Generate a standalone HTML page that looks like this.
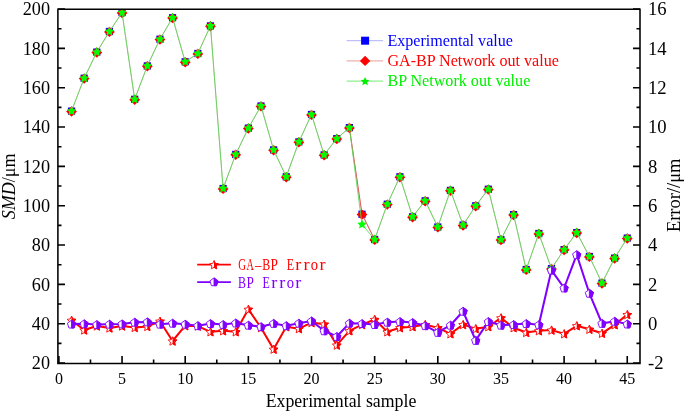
<!DOCTYPE html>
<html><head><meta charset="utf-8"><style>
html,body{margin:0;padding:0;background:#fff;}
body{width:685px;height:413px;overflow:hidden;}
svg{display:block;will-change:transform;}
.tl{font-family:"Liberation Serif",serif;font-size:18.7px;fill:#000;}
.bl{font-family:"Liberation Serif",serif;font-size:16px;fill:#000;}
.at{font-family:"Liberation Serif",serif;font-size:18.5px;fill:#000;}
.lg{font-family:"Liberation Serif",serif;font-size:16.1px;}
.lm{font-family:"Liberation Serif",serif;font-size:16.2px;}
</style></head><body>
<svg width="685" height="413" viewBox="0 0 685 413">
<clipPath id="plotclip"><rect x="57.9" y="9.2" width="582.1" height="354.2"/></clipPath><g clip-path="url(#plotclip)">
<rect x="67.93" y="107.50" width="7.2" height="7.2" fill="#0000ff"/><rect x="80.56" y="74.60" width="7.2" height="7.2" fill="#0000ff"/><rect x="93.19" y="48.50" width="7.2" height="7.2" fill="#0000ff"/><rect x="105.82" y="27.90" width="7.2" height="7.2" fill="#0000ff"/><rect x="118.45" y="9.00" width="7.2" height="7.2" fill="#0000ff"/><rect x="131.08" y="95.70" width="7.2" height="7.2" fill="#0000ff"/><rect x="143.71" y="62.30" width="7.2" height="7.2" fill="#0000ff"/><rect x="156.34" y="35.60" width="7.2" height="7.2" fill="#0000ff"/><rect x="168.97" y="14.10" width="7.2" height="7.2" fill="#0000ff"/><rect x="181.60" y="58.20" width="7.2" height="7.2" fill="#0000ff"/><rect x="194.23" y="49.90" width="7.2" height="7.2" fill="#0000ff"/><rect x="206.86" y="22.30" width="7.2" height="7.2" fill="#0000ff"/><rect x="219.49" y="184.90" width="7.2" height="7.2" fill="#0000ff"/><rect x="232.12" y="150.80" width="7.2" height="7.2" fill="#0000ff"/><rect x="244.75" y="124.50" width="7.2" height="7.2" fill="#0000ff"/><rect x="257.38" y="102.40" width="7.2" height="7.2" fill="#0000ff"/><rect x="270.01" y="146.30" width="7.2" height="7.2" fill="#0000ff"/><rect x="282.64" y="173.20" width="7.2" height="7.2" fill="#0000ff"/><rect x="295.27" y="138.30" width="7.2" height="7.2" fill="#0000ff"/><rect x="307.90" y="110.90" width="7.2" height="7.2" fill="#0000ff"/><rect x="320.53" y="151.30" width="7.2" height="7.2" fill="#0000ff"/><rect x="333.16" y="135.00" width="7.2" height="7.2" fill="#0000ff"/><rect x="345.79" y="124.00" width="7.2" height="7.2" fill="#0000ff"/><rect x="358.42" y="210.60" width="7.2" height="7.2" fill="#0000ff"/><rect x="371.05" y="235.90" width="7.2" height="7.2" fill="#0000ff"/><rect x="383.68" y="200.60" width="7.2" height="7.2" fill="#0000ff"/><rect x="396.31" y="173.20" width="7.2" height="7.2" fill="#0000ff"/><rect x="408.94" y="213.20" width="7.2" height="7.2" fill="#0000ff"/><rect x="421.57" y="197.20" width="7.2" height="7.2" fill="#0000ff"/><rect x="434.20" y="223.40" width="7.2" height="7.2" fill="#0000ff"/><rect x="446.83" y="186.80" width="7.2" height="7.2" fill="#0000ff"/><rect x="459.46" y="221.50" width="7.2" height="7.2" fill="#0000ff"/><rect x="472.09" y="202.20" width="7.2" height="7.2" fill="#0000ff"/><rect x="484.72" y="185.60" width="7.2" height="7.2" fill="#0000ff"/><rect x="497.35" y="236.10" width="7.2" height="7.2" fill="#0000ff"/><rect x="509.98" y="211.00" width="7.2" height="7.2" fill="#0000ff"/><rect x="522.61" y="265.90" width="7.2" height="7.2" fill="#0000ff"/><rect x="535.24" y="229.90" width="7.2" height="7.2" fill="#0000ff"/><rect x="547.87" y="265.00" width="7.2" height="7.2" fill="#0000ff"/><rect x="560.50" y="246.00" width="7.2" height="7.2" fill="#0000ff"/><rect x="573.13" y="229.00" width="7.2" height="7.2" fill="#0000ff"/><rect x="585.76" y="252.90" width="7.2" height="7.2" fill="#0000ff"/><rect x="598.39" y="279.50" width="7.2" height="7.2" fill="#0000ff"/><rect x="611.02" y="254.50" width="7.2" height="7.2" fill="#0000ff"/><rect x="623.65" y="234.50" width="7.2" height="7.2" fill="#0000ff"/>
<polyline points="71.53,111.10 84.16,78.20 96.79,52.10 109.42,31.50 122.05,12.60 134.68,99.30 147.31,65.90 159.94,39.20 172.57,17.70 185.20,61.80 197.83,53.50 210.46,25.90 223.09,188.50 235.72,154.40 248.35,128.10 260.98,106.00 273.61,149.90 286.24,176.80 298.87,141.90 311.50,114.50 324.13,154.90 336.76,138.60 349.39,127.60 362.02,214.20 374.65,239.50 387.28,204.20 399.91,176.80 412.54,216.80 425.17,200.80 437.80,227.00 450.43,190.40 463.06,225.10 475.69,205.80 488.32,189.20 500.95,239.70 513.58,214.60 526.21,269.50 538.84,233.50 551.47,268.60 564.10,249.60 576.73,232.60 589.36,256.50 601.99,283.10 614.62,258.10 627.25,238.10" fill="none" stroke="#d06060" stroke-width="0.9" opacity="0.45"/>
<polyline points="349.39,127.6 362.02,214.2 374.65,239.5" fill="none" stroke="#e05050" stroke-width="0.9"/>
<polygon points="71.53,106.30 76.93,111.50 71.53,116.70 66.13,111.50" fill="#ff0000"/><polygon points="84.16,73.40 89.56,78.60 84.16,83.80 78.76,78.60" fill="#ff0000"/><polygon points="96.79,47.30 102.19,52.50 96.79,57.70 91.39,52.50" fill="#ff0000"/><polygon points="109.42,26.70 114.82,31.90 109.42,37.10 104.02,31.90" fill="#ff0000"/><polygon points="122.05,7.80 127.45,13.00 122.05,18.20 116.65,13.00" fill="#ff0000"/><polygon points="134.68,94.50 140.08,99.70 134.68,104.90 129.28,99.70" fill="#ff0000"/><polygon points="147.31,61.10 152.71,66.30 147.31,71.50 141.91,66.30" fill="#ff0000"/><polygon points="159.94,34.40 165.34,39.60 159.94,44.80 154.54,39.60" fill="#ff0000"/><polygon points="172.57,12.90 177.97,18.10 172.57,23.30 167.17,18.10" fill="#ff0000"/><polygon points="185.20,57.00 190.60,62.20 185.20,67.40 179.80,62.20" fill="#ff0000"/><polygon points="197.83,48.70 203.23,53.90 197.83,59.10 192.43,53.90" fill="#ff0000"/><polygon points="210.46,21.10 215.86,26.30 210.46,31.50 205.06,26.30" fill="#ff0000"/><polygon points="223.09,183.70 228.49,188.90 223.09,194.10 217.69,188.90" fill="#ff0000"/><polygon points="235.72,149.60 241.12,154.80 235.72,160.00 230.32,154.80" fill="#ff0000"/><polygon points="248.35,123.30 253.75,128.50 248.35,133.70 242.95,128.50" fill="#ff0000"/><polygon points="260.98,101.20 266.38,106.40 260.98,111.60 255.58,106.40" fill="#ff0000"/><polygon points="273.61,145.10 279.01,150.30 273.61,155.50 268.21,150.30" fill="#ff0000"/><polygon points="286.24,172.00 291.64,177.20 286.24,182.40 280.84,177.20" fill="#ff0000"/><polygon points="298.87,137.10 304.27,142.30 298.87,147.50 293.47,142.30" fill="#ff0000"/><polygon points="311.50,109.70 316.90,114.90 311.50,120.10 306.10,114.90" fill="#ff0000"/><polygon points="324.13,150.10 329.53,155.30 324.13,160.50 318.73,155.30" fill="#ff0000"/><polygon points="336.76,133.80 342.16,139.00 336.76,144.20 331.36,139.00" fill="#ff0000"/><polygon points="349.39,122.80 354.79,128.00 349.39,133.20 343.99,128.00" fill="#ff0000"/><polygon points="362.02,209.40 367.42,214.60 362.02,219.80 356.62,214.60" fill="#ff0000"/><polygon points="374.65,234.70 380.05,239.90 374.65,245.10 369.25,239.90" fill="#ff0000"/><polygon points="387.28,199.40 392.68,204.60 387.28,209.80 381.88,204.60" fill="#ff0000"/><polygon points="399.91,172.00 405.31,177.20 399.91,182.40 394.51,177.20" fill="#ff0000"/><polygon points="412.54,212.00 417.94,217.20 412.54,222.40 407.14,217.20" fill="#ff0000"/><polygon points="425.17,196.00 430.57,201.20 425.17,206.40 419.77,201.20" fill="#ff0000"/><polygon points="437.80,222.20 443.20,227.40 437.80,232.60 432.40,227.40" fill="#ff0000"/><polygon points="450.43,185.60 455.83,190.80 450.43,196.00 445.03,190.80" fill="#ff0000"/><polygon points="463.06,220.30 468.46,225.50 463.06,230.70 457.66,225.50" fill="#ff0000"/><polygon points="475.69,201.00 481.09,206.20 475.69,211.40 470.29,206.20" fill="#ff0000"/><polygon points="488.32,184.40 493.72,189.60 488.32,194.80 482.92,189.60" fill="#ff0000"/><polygon points="500.95,234.90 506.35,240.10 500.95,245.30 495.55,240.10" fill="#ff0000"/><polygon points="513.58,209.80 518.98,215.00 513.58,220.20 508.18,215.00" fill="#ff0000"/><polygon points="526.21,264.70 531.61,269.90 526.21,275.10 520.81,269.90" fill="#ff0000"/><polygon points="538.84,228.70 544.24,233.90 538.84,239.10 533.44,233.90" fill="#ff0000"/><polygon points="551.47,263.80 556.87,269.00 551.47,274.20 546.07,269.00" fill="#ff0000"/><polygon points="564.10,244.80 569.50,250.00 564.10,255.20 558.70,250.00" fill="#ff0000"/><polygon points="576.73,227.80 582.13,233.00 576.73,238.20 571.33,233.00" fill="#ff0000"/><polygon points="589.36,251.70 594.76,256.90 589.36,262.10 583.96,256.90" fill="#ff0000"/><polygon points="601.99,278.30 607.39,283.50 601.99,288.70 596.59,283.50" fill="#ff0000"/><polygon points="614.62,253.30 620.02,258.50 614.62,263.70 609.22,258.50" fill="#ff0000"/><polygon points="627.25,233.30 632.65,238.50 627.25,243.70 621.85,238.50" fill="#ff0000"/>
<polyline points="71.53,111.10 84.16,78.20 96.79,52.10 109.42,31.50 122.05,12.60 134.68,99.30 147.31,65.90 159.94,39.20 172.57,17.70 185.20,61.80 197.83,53.50 210.46,25.90 223.09,188.50 235.72,154.40 248.35,128.10 260.98,106.00 273.61,149.90 286.24,176.80 298.87,141.90 311.50,114.50 324.13,154.90 336.76,138.60 349.39,127.60 362.02,224.40 374.65,239.50 387.28,204.20 399.91,176.80 412.54,216.80 425.17,200.80 437.80,227.00 450.43,190.40 463.06,225.10 475.69,205.80 488.32,189.20 500.95,239.70 513.58,214.60 526.21,269.50 538.84,233.50 551.47,268.60 564.10,249.60 576.73,232.60 589.36,256.50 601.99,283.10 614.62,258.10 627.25,238.10" fill="none" stroke="#50d850" stroke-width="0.85"/>
<polygon points="71.53,106.10 72.94,109.16 76.29,109.55 73.81,111.84 74.47,115.15 71.53,113.50 68.59,115.15 69.25,111.84 66.77,109.55 70.12,109.16" fill="#00ff00"/><polygon points="84.16,73.20 85.57,76.26 88.92,76.65 86.44,78.94 87.10,82.25 84.16,80.60 81.22,82.25 81.88,78.94 79.40,76.65 82.75,76.26" fill="#00ff00"/><polygon points="96.79,47.10 98.20,50.16 101.55,50.55 99.07,52.84 99.73,56.15 96.79,54.50 93.85,56.15 94.51,52.84 92.03,50.55 95.38,50.16" fill="#00ff00"/><polygon points="109.42,26.50 110.83,29.56 114.18,29.95 111.70,32.24 112.36,35.55 109.42,33.90 106.48,35.55 107.14,32.24 104.66,29.95 108.01,29.56" fill="#00ff00"/><polygon points="122.05,7.60 123.46,10.66 126.81,11.05 124.33,13.34 124.99,16.65 122.05,15.00 119.11,16.65 119.77,13.34 117.29,11.05 120.64,10.66" fill="#00ff00"/><polygon points="134.68,94.30 136.09,97.36 139.44,97.75 136.96,100.04 137.62,103.35 134.68,101.70 131.74,103.35 132.40,100.04 129.92,97.75 133.27,97.36" fill="#00ff00"/><polygon points="147.31,60.90 148.72,63.96 152.07,64.35 149.59,66.64 150.25,69.95 147.31,68.30 144.37,69.95 145.03,66.64 142.55,64.35 145.90,63.96" fill="#00ff00"/><polygon points="159.94,34.20 161.35,37.26 164.70,37.65 162.22,39.94 162.88,43.25 159.94,41.60 157.00,43.25 157.66,39.94 155.18,37.65 158.53,37.26" fill="#00ff00"/><polygon points="172.57,12.70 173.98,15.76 177.33,16.15 174.85,18.44 175.51,21.75 172.57,20.10 169.63,21.75 170.29,18.44 167.81,16.15 171.16,15.76" fill="#00ff00"/><polygon points="185.20,56.80 186.61,59.86 189.96,60.25 187.48,62.54 188.14,65.85 185.20,64.20 182.26,65.85 182.92,62.54 180.44,60.25 183.79,59.86" fill="#00ff00"/><polygon points="197.83,48.50 199.24,51.56 202.59,51.95 200.11,54.24 200.77,57.55 197.83,55.90 194.89,57.55 195.55,54.24 193.07,51.95 196.42,51.56" fill="#00ff00"/><polygon points="210.46,20.90 211.87,23.96 215.22,24.35 212.74,26.64 213.40,29.95 210.46,28.30 207.52,29.95 208.18,26.64 205.70,24.35 209.05,23.96" fill="#00ff00"/><polygon points="223.09,183.50 224.50,186.56 227.85,186.95 225.37,189.24 226.03,192.55 223.09,190.90 220.15,192.55 220.81,189.24 218.33,186.95 221.68,186.56" fill="#00ff00"/><polygon points="235.72,149.40 237.13,152.46 240.48,152.85 238.00,155.14 238.66,158.45 235.72,156.80 232.78,158.45 233.44,155.14 230.96,152.85 234.31,152.46" fill="#00ff00"/><polygon points="248.35,123.10 249.76,126.16 253.11,126.55 250.63,128.84 251.29,132.15 248.35,130.50 245.41,132.15 246.07,128.84 243.59,126.55 246.94,126.16" fill="#00ff00"/><polygon points="260.98,101.00 262.39,104.06 265.74,104.45 263.26,106.74 263.92,110.05 260.98,108.40 258.04,110.05 258.70,106.74 256.22,104.45 259.57,104.06" fill="#00ff00"/><polygon points="273.61,144.90 275.02,147.96 278.37,148.35 275.89,150.64 276.55,153.95 273.61,152.30 270.67,153.95 271.33,150.64 268.85,148.35 272.20,147.96" fill="#00ff00"/><polygon points="286.24,171.80 287.65,174.86 291.00,175.25 288.52,177.54 289.18,180.85 286.24,179.20 283.30,180.85 283.96,177.54 281.48,175.25 284.83,174.86" fill="#00ff00"/><polygon points="298.87,136.90 300.28,139.96 303.63,140.35 301.15,142.64 301.81,145.95 298.87,144.30 295.93,145.95 296.59,142.64 294.11,140.35 297.46,139.96" fill="#00ff00"/><polygon points="311.50,109.50 312.91,112.56 316.26,112.95 313.78,115.24 314.44,118.55 311.50,116.90 308.56,118.55 309.22,115.24 306.74,112.95 310.09,112.56" fill="#00ff00"/><polygon points="324.13,149.90 325.54,152.96 328.89,153.35 326.41,155.64 327.07,158.95 324.13,157.30 321.19,158.95 321.85,155.64 319.37,153.35 322.72,152.96" fill="#00ff00"/><polygon points="336.76,133.60 338.17,136.66 341.52,137.05 339.04,139.34 339.70,142.65 336.76,141.00 333.82,142.65 334.48,139.34 332.00,137.05 335.35,136.66" fill="#00ff00"/><polygon points="349.39,122.60 350.80,125.66 354.15,126.05 351.67,128.34 352.33,131.65 349.39,130.00 346.45,131.65 347.11,128.34 344.63,126.05 347.98,125.66" fill="#00ff00"/><polygon points="362.02,219.40 363.43,222.46 366.78,222.85 364.30,225.14 364.96,228.45 362.02,226.80 359.08,228.45 359.74,225.14 357.26,222.85 360.61,222.46" fill="#00ff00"/><polygon points="374.65,234.50 376.06,237.56 379.41,237.95 376.93,240.24 377.59,243.55 374.65,241.90 371.71,243.55 372.37,240.24 369.89,237.95 373.24,237.56" fill="#00ff00"/><polygon points="387.28,199.20 388.69,202.26 392.04,202.65 389.56,204.94 390.22,208.25 387.28,206.60 384.34,208.25 385.00,204.94 382.52,202.65 385.87,202.26" fill="#00ff00"/><polygon points="399.91,171.80 401.32,174.86 404.67,175.25 402.19,177.54 402.85,180.85 399.91,179.20 396.97,180.85 397.63,177.54 395.15,175.25 398.50,174.86" fill="#00ff00"/><polygon points="412.54,211.80 413.95,214.86 417.30,215.25 414.82,217.54 415.48,220.85 412.54,219.20 409.60,220.85 410.26,217.54 407.78,215.25 411.13,214.86" fill="#00ff00"/><polygon points="425.17,195.80 426.58,198.86 429.93,199.25 427.45,201.54 428.11,204.85 425.17,203.20 422.23,204.85 422.89,201.54 420.41,199.25 423.76,198.86" fill="#00ff00"/><polygon points="437.80,222.00 439.21,225.06 442.56,225.45 440.08,227.74 440.74,231.05 437.80,229.40 434.86,231.05 435.52,227.74 433.04,225.45 436.39,225.06" fill="#00ff00"/><polygon points="450.43,185.40 451.84,188.46 455.19,188.85 452.71,191.14 453.37,194.45 450.43,192.80 447.49,194.45 448.15,191.14 445.67,188.85 449.02,188.46" fill="#00ff00"/><polygon points="463.06,220.10 464.47,223.16 467.82,223.55 465.34,225.84 466.00,229.15 463.06,227.50 460.12,229.15 460.78,225.84 458.30,223.55 461.65,223.16" fill="#00ff00"/><polygon points="475.69,200.80 477.10,203.86 480.45,204.25 477.97,206.54 478.63,209.85 475.69,208.20 472.75,209.85 473.41,206.54 470.93,204.25 474.28,203.86" fill="#00ff00"/><polygon points="488.32,184.20 489.73,187.26 493.08,187.65 490.60,189.94 491.26,193.25 488.32,191.60 485.38,193.25 486.04,189.94 483.56,187.65 486.91,187.26" fill="#00ff00"/><polygon points="500.95,234.70 502.36,237.76 505.71,238.15 503.23,240.44 503.89,243.75 500.95,242.10 498.01,243.75 498.67,240.44 496.19,238.15 499.54,237.76" fill="#00ff00"/><polygon points="513.58,209.60 514.99,212.66 518.34,213.05 515.86,215.34 516.52,218.65 513.58,217.00 510.64,218.65 511.30,215.34 508.82,213.05 512.17,212.66" fill="#00ff00"/><polygon points="526.21,264.50 527.62,267.56 530.97,267.95 528.49,270.24 529.15,273.55 526.21,271.90 523.27,273.55 523.93,270.24 521.45,267.95 524.80,267.56" fill="#00ff00"/><polygon points="538.84,228.50 540.25,231.56 543.60,231.95 541.12,234.24 541.78,237.55 538.84,235.90 535.90,237.55 536.56,234.24 534.08,231.95 537.43,231.56" fill="#00ff00"/><polygon points="551.47,263.60 552.88,266.66 556.23,267.05 553.75,269.34 554.41,272.65 551.47,271.00 548.53,272.65 549.19,269.34 546.71,267.05 550.06,266.66" fill="#00ff00"/><polygon points="564.10,244.60 565.51,247.66 568.86,248.05 566.38,250.34 567.04,253.65 564.10,252.00 561.16,253.65 561.82,250.34 559.34,248.05 562.69,247.66" fill="#00ff00"/><polygon points="576.73,227.60 578.14,230.66 581.49,231.05 579.01,233.34 579.67,236.65 576.73,235.00 573.79,236.65 574.45,233.34 571.97,231.05 575.32,230.66" fill="#00ff00"/><polygon points="589.36,251.50 590.77,254.56 594.12,254.95 591.64,257.24 592.30,260.55 589.36,258.90 586.42,260.55 587.08,257.24 584.60,254.95 587.95,254.56" fill="#00ff00"/><polygon points="601.99,278.10 603.40,281.16 606.75,281.55 604.27,283.84 604.93,287.15 601.99,285.50 599.05,287.15 599.71,283.84 597.23,281.55 600.58,281.16" fill="#00ff00"/><polygon points="614.62,253.10 616.03,256.16 619.38,256.55 616.90,258.84 617.56,262.15 614.62,260.50 611.68,262.15 612.34,258.84 609.86,256.55 613.21,256.16" fill="#00ff00"/><polygon points="627.25,233.10 628.66,236.16 632.01,236.55 629.53,238.84 630.19,242.15 627.25,240.50 624.31,242.15 624.97,238.84 622.49,236.55 625.84,236.16" fill="#00ff00"/>
<polyline points="71.53,320.30 84.16,330.00 96.79,326.00 109.42,328.00 122.05,326.00 134.68,327.50 147.31,326.50 159.94,321.20 172.57,341.00 185.20,325.70 197.83,326.10 210.46,331.80 223.09,330.80 235.72,331.80 248.35,309.30 260.98,327.70 273.61,349.20 286.24,326.70 298.87,328.70 311.50,322.60 324.13,324.20 336.76,345.10 349.39,330.80 362.02,324.60 374.65,319.50 387.28,331.80 399.91,327.70 412.54,326.70 425.17,324.60 437.80,327.70 450.43,333.80 463.06,324.60 475.69,328.70 488.32,326.70 500.95,317.90 513.58,327.70 526.21,332.50 538.84,330.80 551.47,330.10 564.10,333.80 576.73,325.80 589.36,329.30 601.99,333.30 614.62,324.80 627.25,314.60" fill="none" stroke="#ff0000" stroke-width="2" stroke-linejoin="round"/>
<polygon points="71.53,316.14 72.83,318.95 75.90,319.32 73.63,321.42 74.23,324.46 71.53,322.95 68.83,324.46 69.43,321.42 67.16,319.32 70.23,318.95" fill="#fff" stroke="#ff0000" stroke-width="0.9"/><clipPath id="c7153_32030"><rect x="71.53" y="312.30" width="9" height="16"/></clipPath><polygon points="71.53,316.14 72.83,318.95 75.90,319.32 73.63,321.42 74.23,324.46 71.53,322.95 68.83,324.46 69.43,321.42 67.16,319.32 70.23,318.95" fill="#ff0000" stroke="#ff0000" stroke-width="0.9" clip-path="url(#c7153_32030)"/><polygon points="84.16,325.84 85.46,328.65 88.53,329.02 86.26,331.12 86.86,334.16 84.16,332.65 81.46,334.16 82.06,331.12 79.79,329.02 82.86,328.65" fill="#fff" stroke="#ff0000" stroke-width="0.9"/><clipPath id="c8416_33000"><rect x="84.16" y="322.00" width="9" height="16"/></clipPath><polygon points="84.16,325.84 85.46,328.65 88.53,329.02 86.26,331.12 86.86,334.16 84.16,332.65 81.46,334.16 82.06,331.12 79.79,329.02 82.86,328.65" fill="#ff0000" stroke="#ff0000" stroke-width="0.9" clip-path="url(#c8416_33000)"/><polygon points="96.79,321.84 98.09,324.65 101.16,325.02 98.89,327.12 99.49,330.16 96.79,328.65 94.09,330.16 94.69,327.12 92.42,325.02 95.49,324.65" fill="#fff" stroke="#ff0000" stroke-width="0.9"/><clipPath id="c9679_32600"><rect x="96.79" y="318.00" width="9" height="16"/></clipPath><polygon points="96.79,321.84 98.09,324.65 101.16,325.02 98.89,327.12 99.49,330.16 96.79,328.65 94.09,330.16 94.69,327.12 92.42,325.02 95.49,324.65" fill="#ff0000" stroke="#ff0000" stroke-width="0.9" clip-path="url(#c9679_32600)"/><polygon points="109.42,323.84 110.72,326.65 113.79,327.02 111.52,329.12 112.12,332.16 109.42,330.65 106.72,332.16 107.32,329.12 105.05,327.02 108.12,326.65" fill="#fff" stroke="#ff0000" stroke-width="0.9"/><clipPath id="c10942_32800"><rect x="109.42" y="320.00" width="9" height="16"/></clipPath><polygon points="109.42,323.84 110.72,326.65 113.79,327.02 111.52,329.12 112.12,332.16 109.42,330.65 106.72,332.16 107.32,329.12 105.05,327.02 108.12,326.65" fill="#ff0000" stroke="#ff0000" stroke-width="0.9" clip-path="url(#c10942_32800)"/><polygon points="122.05,321.84 123.35,324.65 126.42,325.02 124.15,327.12 124.75,330.16 122.05,328.65 119.35,330.16 119.95,327.12 117.68,325.02 120.75,324.65" fill="#fff" stroke="#ff0000" stroke-width="0.9"/><clipPath id="c12205_32600"><rect x="122.05" y="318.00" width="9" height="16"/></clipPath><polygon points="122.05,321.84 123.35,324.65 126.42,325.02 124.15,327.12 124.75,330.16 122.05,328.65 119.35,330.16 119.95,327.12 117.68,325.02 120.75,324.65" fill="#ff0000" stroke="#ff0000" stroke-width="0.9" clip-path="url(#c12205_32600)"/><polygon points="134.68,323.34 135.98,326.15 139.05,326.52 136.78,328.62 137.38,331.66 134.68,330.15 131.98,331.66 132.58,328.62 130.31,326.52 133.38,326.15" fill="#fff" stroke="#ff0000" stroke-width="0.9"/><clipPath id="c13468_32750"><rect x="134.68" y="319.50" width="9" height="16"/></clipPath><polygon points="134.68,323.34 135.98,326.15 139.05,326.52 136.78,328.62 137.38,331.66 134.68,330.15 131.98,331.66 132.58,328.62 130.31,326.52 133.38,326.15" fill="#ff0000" stroke="#ff0000" stroke-width="0.9" clip-path="url(#c13468_32750)"/><polygon points="147.31,322.34 148.61,325.15 151.68,325.52 149.41,327.62 150.01,330.66 147.31,329.15 144.61,330.66 145.21,327.62 142.94,325.52 146.01,325.15" fill="#fff" stroke="#ff0000" stroke-width="0.9"/><clipPath id="c14731_32650"><rect x="147.31" y="318.50" width="9" height="16"/></clipPath><polygon points="147.31,322.34 148.61,325.15 151.68,325.52 149.41,327.62 150.01,330.66 147.31,329.15 144.61,330.66 145.21,327.62 142.94,325.52 146.01,325.15" fill="#ff0000" stroke="#ff0000" stroke-width="0.9" clip-path="url(#c14731_32650)"/><polygon points="159.94,317.04 161.24,319.85 164.31,320.22 162.04,322.32 162.64,325.36 159.94,323.85 157.24,325.36 157.84,322.32 155.57,320.22 158.64,319.85" fill="#fff" stroke="#ff0000" stroke-width="0.9"/><clipPath id="c15994_32120"><rect x="159.94" y="313.20" width="9" height="16"/></clipPath><polygon points="159.94,317.04 161.24,319.85 164.31,320.22 162.04,322.32 162.64,325.36 159.94,323.85 157.24,325.36 157.84,322.32 155.57,320.22 158.64,319.85" fill="#ff0000" stroke="#ff0000" stroke-width="0.9" clip-path="url(#c15994_32120)"/><polygon points="172.57,336.84 173.87,339.65 176.94,340.02 174.67,342.12 175.27,345.16 172.57,343.65 169.87,345.16 170.47,342.12 168.20,340.02 171.27,339.65" fill="#fff" stroke="#ff0000" stroke-width="0.9"/><clipPath id="c17257_34100"><rect x="172.57" y="333.00" width="9" height="16"/></clipPath><polygon points="172.57,336.84 173.87,339.65 176.94,340.02 174.67,342.12 175.27,345.16 172.57,343.65 169.87,345.16 170.47,342.12 168.20,340.02 171.27,339.65" fill="#ff0000" stroke="#ff0000" stroke-width="0.9" clip-path="url(#c17257_34100)"/><polygon points="185.20,321.54 186.50,324.35 189.57,324.72 187.30,326.82 187.90,329.86 185.20,328.35 182.50,329.86 183.10,326.82 180.83,324.72 183.90,324.35" fill="#fff" stroke="#ff0000" stroke-width="0.9"/><clipPath id="c18520_32570"><rect x="185.20" y="317.70" width="9" height="16"/></clipPath><polygon points="185.20,321.54 186.50,324.35 189.57,324.72 187.30,326.82 187.90,329.86 185.20,328.35 182.50,329.86 183.10,326.82 180.83,324.72 183.90,324.35" fill="#ff0000" stroke="#ff0000" stroke-width="0.9" clip-path="url(#c18520_32570)"/><polygon points="197.83,321.94 199.13,324.75 202.20,325.12 199.93,327.22 200.53,330.26 197.83,328.75 195.13,330.26 195.73,327.22 193.46,325.12 196.53,324.75" fill="#fff" stroke="#ff0000" stroke-width="0.9"/><clipPath id="c19783_32610"><rect x="197.83" y="318.10" width="9" height="16"/></clipPath><polygon points="197.83,321.94 199.13,324.75 202.20,325.12 199.93,327.22 200.53,330.26 197.83,328.75 195.13,330.26 195.73,327.22 193.46,325.12 196.53,324.75" fill="#ff0000" stroke="#ff0000" stroke-width="0.9" clip-path="url(#c19783_32610)"/><polygon points="210.46,327.64 211.76,330.45 214.83,330.82 212.56,332.92 213.16,335.96 210.46,334.45 207.76,335.96 208.36,332.92 206.09,330.82 209.16,330.45" fill="#fff" stroke="#ff0000" stroke-width="0.9"/><clipPath id="c21046_33180"><rect x="210.46" y="323.80" width="9" height="16"/></clipPath><polygon points="210.46,327.64 211.76,330.45 214.83,330.82 212.56,332.92 213.16,335.96 210.46,334.45 207.76,335.96 208.36,332.92 206.09,330.82 209.16,330.45" fill="#ff0000" stroke="#ff0000" stroke-width="0.9" clip-path="url(#c21046_33180)"/><polygon points="223.09,326.64 224.39,329.45 227.46,329.82 225.19,331.92 225.79,334.96 223.09,333.45 220.39,334.96 220.99,331.92 218.72,329.82 221.79,329.45" fill="#fff" stroke="#ff0000" stroke-width="0.9"/><clipPath id="c22309_33080"><rect x="223.09" y="322.80" width="9" height="16"/></clipPath><polygon points="223.09,326.64 224.39,329.45 227.46,329.82 225.19,331.92 225.79,334.96 223.09,333.45 220.39,334.96 220.99,331.92 218.72,329.82 221.79,329.45" fill="#ff0000" stroke="#ff0000" stroke-width="0.9" clip-path="url(#c22309_33080)"/><polygon points="235.72,327.64 237.02,330.45 240.09,330.82 237.82,332.92 238.42,335.96 235.72,334.45 233.02,335.96 233.62,332.92 231.35,330.82 234.42,330.45" fill="#fff" stroke="#ff0000" stroke-width="0.9"/><clipPath id="c23572_33180"><rect x="235.72" y="323.80" width="9" height="16"/></clipPath><polygon points="235.72,327.64 237.02,330.45 240.09,330.82 237.82,332.92 238.42,335.96 235.72,334.45 233.02,335.96 233.62,332.92 231.35,330.82 234.42,330.45" fill="#ff0000" stroke="#ff0000" stroke-width="0.9" clip-path="url(#c23572_33180)"/><polygon points="248.35,305.14 249.65,307.95 252.72,308.32 250.45,310.42 251.05,313.46 248.35,311.95 245.65,313.46 246.25,310.42 243.98,308.32 247.05,307.95" fill="#fff" stroke="#ff0000" stroke-width="0.9"/><clipPath id="c24835_30930"><rect x="248.35" y="301.30" width="9" height="16"/></clipPath><polygon points="248.35,305.14 249.65,307.95 252.72,308.32 250.45,310.42 251.05,313.46 248.35,311.95 245.65,313.46 246.25,310.42 243.98,308.32 247.05,307.95" fill="#ff0000" stroke="#ff0000" stroke-width="0.9" clip-path="url(#c24835_30930)"/><polygon points="260.98,323.54 262.28,326.35 265.35,326.72 263.08,328.82 263.68,331.86 260.98,330.35 258.28,331.86 258.88,328.82 256.61,326.72 259.68,326.35" fill="#fff" stroke="#ff0000" stroke-width="0.9"/><clipPath id="c26098_32770"><rect x="260.98" y="319.70" width="9" height="16"/></clipPath><polygon points="260.98,323.54 262.28,326.35 265.35,326.72 263.08,328.82 263.68,331.86 260.98,330.35 258.28,331.86 258.88,328.82 256.61,326.72 259.68,326.35" fill="#ff0000" stroke="#ff0000" stroke-width="0.9" clip-path="url(#c26098_32770)"/><polygon points="273.61,345.04 274.91,347.85 277.98,348.22 275.71,350.32 276.31,353.36 273.61,351.85 270.91,353.36 271.51,350.32 269.24,348.22 272.31,347.85" fill="#fff" stroke="#ff0000" stroke-width="0.9"/><clipPath id="c27361_34920"><rect x="273.61" y="341.20" width="9" height="16"/></clipPath><polygon points="273.61,345.04 274.91,347.85 277.98,348.22 275.71,350.32 276.31,353.36 273.61,351.85 270.91,353.36 271.51,350.32 269.24,348.22 272.31,347.85" fill="#ff0000" stroke="#ff0000" stroke-width="0.9" clip-path="url(#c27361_34920)"/><polygon points="286.24,322.54 287.54,325.35 290.61,325.72 288.34,327.82 288.94,330.86 286.24,329.35 283.54,330.86 284.14,327.82 281.87,325.72 284.94,325.35" fill="#fff" stroke="#ff0000" stroke-width="0.9"/><clipPath id="c28624_32670"><rect x="286.24" y="318.70" width="9" height="16"/></clipPath><polygon points="286.24,322.54 287.54,325.35 290.61,325.72 288.34,327.82 288.94,330.86 286.24,329.35 283.54,330.86 284.14,327.82 281.87,325.72 284.94,325.35" fill="#ff0000" stroke="#ff0000" stroke-width="0.9" clip-path="url(#c28624_32670)"/><polygon points="298.87,324.54 300.17,327.35 303.24,327.72 300.97,329.82 301.57,332.86 298.87,331.35 296.17,332.86 296.77,329.82 294.50,327.72 297.57,327.35" fill="#fff" stroke="#ff0000" stroke-width="0.9"/><clipPath id="c29887_32870"><rect x="298.87" y="320.70" width="9" height="16"/></clipPath><polygon points="298.87,324.54 300.17,327.35 303.24,327.72 300.97,329.82 301.57,332.86 298.87,331.35 296.17,332.86 296.77,329.82 294.50,327.72 297.57,327.35" fill="#ff0000" stroke="#ff0000" stroke-width="0.9" clip-path="url(#c29887_32870)"/><polygon points="311.50,318.44 312.80,321.25 315.87,321.62 313.60,323.72 314.20,326.76 311.50,325.25 308.80,326.76 309.40,323.72 307.13,321.62 310.20,321.25" fill="#fff" stroke="#ff0000" stroke-width="0.9"/><clipPath id="c31150_32260"><rect x="311.50" y="314.60" width="9" height="16"/></clipPath><polygon points="311.50,318.44 312.80,321.25 315.87,321.62 313.60,323.72 314.20,326.76 311.50,325.25 308.80,326.76 309.40,323.72 307.13,321.62 310.20,321.25" fill="#ff0000" stroke="#ff0000" stroke-width="0.9" clip-path="url(#c31150_32260)"/><polygon points="324.13,320.04 325.43,322.85 328.50,323.22 326.23,325.32 326.83,328.36 324.13,326.85 321.43,328.36 322.03,325.32 319.76,323.22 322.83,322.85" fill="#fff" stroke="#ff0000" stroke-width="0.9"/><clipPath id="c32413_32420"><rect x="324.13" y="316.20" width="9" height="16"/></clipPath><polygon points="324.13,320.04 325.43,322.85 328.50,323.22 326.23,325.32 326.83,328.36 324.13,326.85 321.43,328.36 322.03,325.32 319.76,323.22 322.83,322.85" fill="#ff0000" stroke="#ff0000" stroke-width="0.9" clip-path="url(#c32413_32420)"/><polygon points="336.76,340.94 338.06,343.75 341.13,344.12 338.86,346.22 339.46,349.26 336.76,347.75 334.06,349.26 334.66,346.22 332.39,344.12 335.46,343.75" fill="#fff" stroke="#ff0000" stroke-width="0.9"/><clipPath id="c33676_34510"><rect x="336.76" y="337.10" width="9" height="16"/></clipPath><polygon points="336.76,340.94 338.06,343.75 341.13,344.12 338.86,346.22 339.46,349.26 336.76,347.75 334.06,349.26 334.66,346.22 332.39,344.12 335.46,343.75" fill="#ff0000" stroke="#ff0000" stroke-width="0.9" clip-path="url(#c33676_34510)"/><polygon points="349.39,326.64 350.69,329.45 353.76,329.82 351.49,331.92 352.09,334.96 349.39,333.45 346.69,334.96 347.29,331.92 345.02,329.82 348.09,329.45" fill="#fff" stroke="#ff0000" stroke-width="0.9"/><clipPath id="c34939_33080"><rect x="349.39" y="322.80" width="9" height="16"/></clipPath><polygon points="349.39,326.64 350.69,329.45 353.76,329.82 351.49,331.92 352.09,334.96 349.39,333.45 346.69,334.96 347.29,331.92 345.02,329.82 348.09,329.45" fill="#ff0000" stroke="#ff0000" stroke-width="0.9" clip-path="url(#c34939_33080)"/><polygon points="362.02,320.44 363.32,323.25 366.39,323.62 364.12,325.72 364.72,328.76 362.02,327.25 359.32,328.76 359.92,325.72 357.65,323.62 360.72,323.25" fill="#fff" stroke="#ff0000" stroke-width="0.9"/><clipPath id="c36202_32460"><rect x="362.02" y="316.60" width="9" height="16"/></clipPath><polygon points="362.02,320.44 363.32,323.25 366.39,323.62 364.12,325.72 364.72,328.76 362.02,327.25 359.32,328.76 359.92,325.72 357.65,323.62 360.72,323.25" fill="#ff0000" stroke="#ff0000" stroke-width="0.9" clip-path="url(#c36202_32460)"/><polygon points="374.65,315.34 375.95,318.15 379.02,318.52 376.75,320.62 377.35,323.66 374.65,322.15 371.95,323.66 372.55,320.62 370.28,318.52 373.35,318.15" fill="#fff" stroke="#ff0000" stroke-width="0.9"/><clipPath id="c37465_31950"><rect x="374.65" y="311.50" width="9" height="16"/></clipPath><polygon points="374.65,315.34 375.95,318.15 379.02,318.52 376.75,320.62 377.35,323.66 374.65,322.15 371.95,323.66 372.55,320.62 370.28,318.52 373.35,318.15" fill="#ff0000" stroke="#ff0000" stroke-width="0.9" clip-path="url(#c37465_31950)"/><polygon points="387.28,327.64 388.58,330.45 391.65,330.82 389.38,332.92 389.98,335.96 387.28,334.45 384.58,335.96 385.18,332.92 382.91,330.82 385.98,330.45" fill="#fff" stroke="#ff0000" stroke-width="0.9"/><clipPath id="c38728_33180"><rect x="387.28" y="323.80" width="9" height="16"/></clipPath><polygon points="387.28,327.64 388.58,330.45 391.65,330.82 389.38,332.92 389.98,335.96 387.28,334.45 384.58,335.96 385.18,332.92 382.91,330.82 385.98,330.45" fill="#ff0000" stroke="#ff0000" stroke-width="0.9" clip-path="url(#c38728_33180)"/><polygon points="399.91,323.54 401.21,326.35 404.28,326.72 402.01,328.82 402.61,331.86 399.91,330.35 397.21,331.86 397.81,328.82 395.54,326.72 398.61,326.35" fill="#fff" stroke="#ff0000" stroke-width="0.9"/><clipPath id="c39991_32770"><rect x="399.91" y="319.70" width="9" height="16"/></clipPath><polygon points="399.91,323.54 401.21,326.35 404.28,326.72 402.01,328.82 402.61,331.86 399.91,330.35 397.21,331.86 397.81,328.82 395.54,326.72 398.61,326.35" fill="#ff0000" stroke="#ff0000" stroke-width="0.9" clip-path="url(#c39991_32770)"/><polygon points="412.54,322.54 413.84,325.35 416.91,325.72 414.64,327.82 415.24,330.86 412.54,329.35 409.84,330.86 410.44,327.82 408.17,325.72 411.24,325.35" fill="#fff" stroke="#ff0000" stroke-width="0.9"/><clipPath id="c41254_32670"><rect x="412.54" y="318.70" width="9" height="16"/></clipPath><polygon points="412.54,322.54 413.84,325.35 416.91,325.72 414.64,327.82 415.24,330.86 412.54,329.35 409.84,330.86 410.44,327.82 408.17,325.72 411.24,325.35" fill="#ff0000" stroke="#ff0000" stroke-width="0.9" clip-path="url(#c41254_32670)"/><polygon points="425.17,320.44 426.47,323.25 429.54,323.62 427.27,325.72 427.87,328.76 425.17,327.25 422.47,328.76 423.07,325.72 420.80,323.62 423.87,323.25" fill="#fff" stroke="#ff0000" stroke-width="0.9"/><clipPath id="c42517_32460"><rect x="425.17" y="316.60" width="9" height="16"/></clipPath><polygon points="425.17,320.44 426.47,323.25 429.54,323.62 427.27,325.72 427.87,328.76 425.17,327.25 422.47,328.76 423.07,325.72 420.80,323.62 423.87,323.25" fill="#ff0000" stroke="#ff0000" stroke-width="0.9" clip-path="url(#c42517_32460)"/><polygon points="437.80,323.54 439.10,326.35 442.17,326.72 439.90,328.82 440.50,331.86 437.80,330.35 435.10,331.86 435.70,328.82 433.43,326.72 436.50,326.35" fill="#fff" stroke="#ff0000" stroke-width="0.9"/><clipPath id="c43780_32770"><rect x="437.80" y="319.70" width="9" height="16"/></clipPath><polygon points="437.80,323.54 439.10,326.35 442.17,326.72 439.90,328.82 440.50,331.86 437.80,330.35 435.10,331.86 435.70,328.82 433.43,326.72 436.50,326.35" fill="#ff0000" stroke="#ff0000" stroke-width="0.9" clip-path="url(#c43780_32770)"/><polygon points="450.43,329.64 451.73,332.45 454.80,332.82 452.53,334.92 453.13,337.96 450.43,336.45 447.73,337.96 448.33,334.92 446.06,332.82 449.13,332.45" fill="#fff" stroke="#ff0000" stroke-width="0.9"/><clipPath id="c45043_33380"><rect x="450.43" y="325.80" width="9" height="16"/></clipPath><polygon points="450.43,329.64 451.73,332.45 454.80,332.82 452.53,334.92 453.13,337.96 450.43,336.45 447.73,337.96 448.33,334.92 446.06,332.82 449.13,332.45" fill="#ff0000" stroke="#ff0000" stroke-width="0.9" clip-path="url(#c45043_33380)"/><polygon points="463.06,320.44 464.36,323.25 467.43,323.62 465.16,325.72 465.76,328.76 463.06,327.25 460.36,328.76 460.96,325.72 458.69,323.62 461.76,323.25" fill="#fff" stroke="#ff0000" stroke-width="0.9"/><clipPath id="c46306_32460"><rect x="463.06" y="316.60" width="9" height="16"/></clipPath><polygon points="463.06,320.44 464.36,323.25 467.43,323.62 465.16,325.72 465.76,328.76 463.06,327.25 460.36,328.76 460.96,325.72 458.69,323.62 461.76,323.25" fill="#ff0000" stroke="#ff0000" stroke-width="0.9" clip-path="url(#c46306_32460)"/><polygon points="475.69,324.54 476.99,327.35 480.06,327.72 477.79,329.82 478.39,332.86 475.69,331.35 472.99,332.86 473.59,329.82 471.32,327.72 474.39,327.35" fill="#fff" stroke="#ff0000" stroke-width="0.9"/><clipPath id="c47569_32870"><rect x="475.69" y="320.70" width="9" height="16"/></clipPath><polygon points="475.69,324.54 476.99,327.35 480.06,327.72 477.79,329.82 478.39,332.86 475.69,331.35 472.99,332.86 473.59,329.82 471.32,327.72 474.39,327.35" fill="#ff0000" stroke="#ff0000" stroke-width="0.9" clip-path="url(#c47569_32870)"/><polygon points="488.32,322.54 489.62,325.35 492.69,325.72 490.42,327.82 491.02,330.86 488.32,329.35 485.62,330.86 486.22,327.82 483.95,325.72 487.02,325.35" fill="#fff" stroke="#ff0000" stroke-width="0.9"/><clipPath id="c48832_32670"><rect x="488.32" y="318.70" width="9" height="16"/></clipPath><polygon points="488.32,322.54 489.62,325.35 492.69,325.72 490.42,327.82 491.02,330.86 488.32,329.35 485.62,330.86 486.22,327.82 483.95,325.72 487.02,325.35" fill="#ff0000" stroke="#ff0000" stroke-width="0.9" clip-path="url(#c48832_32670)"/><polygon points="500.95,313.74 502.25,316.55 505.32,316.92 503.05,319.02 503.65,322.06 500.95,320.55 498.25,322.06 498.85,319.02 496.58,316.92 499.65,316.55" fill="#fff" stroke="#ff0000" stroke-width="0.9"/><clipPath id="c50095_31789"><rect x="500.95" y="309.90" width="9" height="16"/></clipPath><polygon points="500.95,313.74 502.25,316.55 505.32,316.92 503.05,319.02 503.65,322.06 500.95,320.55 498.25,322.06 498.85,319.02 496.58,316.92 499.65,316.55" fill="#ff0000" stroke="#ff0000" stroke-width="0.9" clip-path="url(#c50095_31789)"/><polygon points="513.58,323.54 514.88,326.35 517.95,326.72 515.68,328.82 516.28,331.86 513.58,330.35 510.88,331.86 511.48,328.82 509.21,326.72 512.28,326.35" fill="#fff" stroke="#ff0000" stroke-width="0.9"/><clipPath id="c51358_32770"><rect x="513.58" y="319.70" width="9" height="16"/></clipPath><polygon points="513.58,323.54 514.88,326.35 517.95,326.72 515.68,328.82 516.28,331.86 513.58,330.35 510.88,331.86 511.48,328.82 509.21,326.72 512.28,326.35" fill="#ff0000" stroke="#ff0000" stroke-width="0.9" clip-path="url(#c51358_32770)"/><polygon points="526.21,328.34 527.51,331.15 530.58,331.52 528.31,333.62 528.91,336.66 526.21,335.15 523.51,336.66 524.11,333.62 521.84,331.52 524.91,331.15" fill="#fff" stroke="#ff0000" stroke-width="0.9"/><clipPath id="c52621_33250"><rect x="526.21" y="324.50" width="9" height="16"/></clipPath><polygon points="526.21,328.34 527.51,331.15 530.58,331.52 528.31,333.62 528.91,336.66 526.21,335.15 523.51,336.66 524.11,333.62 521.84,331.52 524.91,331.15" fill="#ff0000" stroke="#ff0000" stroke-width="0.9" clip-path="url(#c52621_33250)"/><polygon points="538.84,326.64 540.14,329.45 543.21,329.82 540.94,331.92 541.54,334.96 538.84,333.45 536.14,334.96 536.74,331.92 534.47,329.82 537.54,329.45" fill="#fff" stroke="#ff0000" stroke-width="0.9"/><clipPath id="c53884_33080"><rect x="538.84" y="322.80" width="9" height="16"/></clipPath><polygon points="538.84,326.64 540.14,329.45 543.21,329.82 540.94,331.92 541.54,334.96 538.84,333.45 536.14,334.96 536.74,331.92 534.47,329.82 537.54,329.45" fill="#ff0000" stroke="#ff0000" stroke-width="0.9" clip-path="url(#c53884_33080)"/><polygon points="551.47,325.94 552.77,328.75 555.84,329.12 553.57,331.22 554.17,334.26 551.47,332.75 548.77,334.26 549.37,331.22 547.10,329.12 550.17,328.75" fill="#fff" stroke="#ff0000" stroke-width="0.9"/><clipPath id="c55147_33010"><rect x="551.47" y="322.10" width="9" height="16"/></clipPath><polygon points="551.47,325.94 552.77,328.75 555.84,329.12 553.57,331.22 554.17,334.26 551.47,332.75 548.77,334.26 549.37,331.22 547.10,329.12 550.17,328.75" fill="#ff0000" stroke="#ff0000" stroke-width="0.9" clip-path="url(#c55147_33010)"/><polygon points="564.10,329.64 565.40,332.45 568.47,332.82 566.20,334.92 566.80,337.96 564.10,336.45 561.40,337.96 562.00,334.92 559.73,332.82 562.80,332.45" fill="#fff" stroke="#ff0000" stroke-width="0.9"/><clipPath id="c56410_33380"><rect x="564.10" y="325.80" width="9" height="16"/></clipPath><polygon points="564.10,329.64 565.40,332.45 568.47,332.82 566.20,334.92 566.80,337.96 564.10,336.45 561.40,337.96 562.00,334.92 559.73,332.82 562.80,332.45" fill="#ff0000" stroke="#ff0000" stroke-width="0.9" clip-path="url(#c56410_33380)"/><polygon points="576.73,321.64 578.03,324.45 581.10,324.82 578.83,326.92 579.43,329.96 576.73,328.45 574.03,329.96 574.63,326.92 572.36,324.82 575.43,324.45" fill="#fff" stroke="#ff0000" stroke-width="0.9"/><clipPath id="c57673_32580"><rect x="576.73" y="317.80" width="9" height="16"/></clipPath><polygon points="576.73,321.64 578.03,324.45 581.10,324.82 578.83,326.92 579.43,329.96 576.73,328.45 574.03,329.96 574.63,326.92 572.36,324.82 575.43,324.45" fill="#ff0000" stroke="#ff0000" stroke-width="0.9" clip-path="url(#c57673_32580)"/><polygon points="589.36,325.14 590.66,327.95 593.73,328.32 591.46,330.42 592.06,333.46 589.36,331.95 586.66,333.46 587.26,330.42 584.99,328.32 588.06,327.95" fill="#fff" stroke="#ff0000" stroke-width="0.9"/><clipPath id="c58936_32930"><rect x="589.36" y="321.30" width="9" height="16"/></clipPath><polygon points="589.36,325.14 590.66,327.95 593.73,328.32 591.46,330.42 592.06,333.46 589.36,331.95 586.66,333.46 587.26,330.42 584.99,328.32 588.06,327.95" fill="#ff0000" stroke="#ff0000" stroke-width="0.9" clip-path="url(#c58936_32930)"/><polygon points="601.99,329.14 603.29,331.95 606.36,332.32 604.09,334.42 604.69,337.46 601.99,335.95 599.29,337.46 599.89,334.42 597.62,332.32 600.69,331.95" fill="#fff" stroke="#ff0000" stroke-width="0.9"/><clipPath id="c60199_33330"><rect x="601.99" y="325.30" width="9" height="16"/></clipPath><polygon points="601.99,329.14 603.29,331.95 606.36,332.32 604.09,334.42 604.69,337.46 601.99,335.95 599.29,337.46 599.89,334.42 597.62,332.32 600.69,331.95" fill="#ff0000" stroke="#ff0000" stroke-width="0.9" clip-path="url(#c60199_33330)"/><polygon points="614.62,320.64 615.92,323.45 618.99,323.82 616.72,325.92 617.32,328.96 614.62,327.45 611.92,328.96 612.52,325.92 610.25,323.82 613.32,323.45" fill="#fff" stroke="#ff0000" stroke-width="0.9"/><clipPath id="c61462_32480"><rect x="614.62" y="316.80" width="9" height="16"/></clipPath><polygon points="614.62,320.64 615.92,323.45 618.99,323.82 616.72,325.92 617.32,328.96 614.62,327.45 611.92,328.96 612.52,325.92 610.25,323.82 613.32,323.45" fill="#ff0000" stroke="#ff0000" stroke-width="0.9" clip-path="url(#c61462_32480)"/><polygon points="627.25,310.44 628.55,313.25 631.62,313.62 629.35,315.72 629.95,318.76 627.25,317.25 624.55,318.76 625.15,315.72 622.88,313.62 625.95,313.25" fill="#fff" stroke="#ff0000" stroke-width="0.9"/><clipPath id="c62725_31460"><rect x="627.25" y="306.60" width="9" height="16"/></clipPath><polygon points="627.25,310.44 628.55,313.25 631.62,313.62 629.35,315.72 629.95,318.76 627.25,317.25 624.55,318.76 625.15,315.72 622.88,313.62 625.95,313.25" fill="#ff0000" stroke="#ff0000" stroke-width="0.9" clip-path="url(#c62725_31460)"/>
<polyline points="71.53,324.10 84.16,323.80 96.79,324.60 109.42,324.20 122.05,323.90 134.68,322.20 147.31,321.90 159.94,324.20 172.57,323.20 185.20,324.20 197.83,325.70 210.46,323.60 223.09,324.60 235.72,323.00 248.35,325.20 260.98,326.70 273.61,323.40 286.24,325.70 298.87,323.20 311.50,321.00 324.13,330.80 336.76,336.50 349.39,323.20 362.02,323.60 374.65,324.60 387.28,322.20 399.91,321.60 412.54,322.60 425.17,325.70 437.80,332.40 450.43,325.20 463.06,311.30 475.69,340.40 488.32,321.60 500.95,325.20 513.58,324.60 526.21,323.60 538.84,324.80 551.47,270.10 564.10,288.00 576.73,254.70 589.36,293.30 601.99,323.40 614.62,321.30 627.25,324.00" fill="none" stroke="#8000ff" stroke-width="2.05" stroke-linejoin="round"/>
<polygon points="71.53,320.17 75.67,323.17 74.09,328.03 68.97,328.03 67.39,323.17" fill="#fff" stroke="#8000ff" stroke-width="0.9"/><polygon points="71.53,320.17 75.67,323.17 74.09,328.03 71.53,328.03" fill="#8000ff" stroke="#8000ff" stroke-width="0.9"/><polygon points="84.16,319.87 88.30,322.87 86.72,327.73 81.60,327.73 80.02,322.87" fill="#fff" stroke="#8000ff" stroke-width="0.9"/><polygon points="84.16,319.87 88.30,322.87 86.72,327.73 84.16,327.73" fill="#8000ff" stroke="#8000ff" stroke-width="0.9"/><polygon points="96.79,320.67 100.93,323.67 99.35,328.53 94.23,328.53 92.65,323.67" fill="#fff" stroke="#8000ff" stroke-width="0.9"/><polygon points="96.79,320.67 100.93,323.67 99.35,328.53 96.79,328.53" fill="#8000ff" stroke="#8000ff" stroke-width="0.9"/><polygon points="109.42,320.27 113.56,323.27 111.98,328.13 106.86,328.13 105.28,323.27" fill="#fff" stroke="#8000ff" stroke-width="0.9"/><polygon points="109.42,320.27 113.56,323.27 111.98,328.13 109.42,328.13" fill="#8000ff" stroke="#8000ff" stroke-width="0.9"/><polygon points="122.05,319.97 126.19,322.97 124.61,327.83 119.49,327.83 117.91,322.97" fill="#fff" stroke="#8000ff" stroke-width="0.9"/><polygon points="122.05,319.97 126.19,322.97 124.61,327.83 122.05,327.83" fill="#8000ff" stroke="#8000ff" stroke-width="0.9"/><polygon points="134.68,318.27 138.82,321.27 137.24,326.13 132.12,326.13 130.54,321.27" fill="#fff" stroke="#8000ff" stroke-width="0.9"/><polygon points="134.68,318.27 138.82,321.27 137.24,326.13 134.68,326.13" fill="#8000ff" stroke="#8000ff" stroke-width="0.9"/><polygon points="147.31,317.97 151.45,320.97 149.87,325.83 144.75,325.83 143.17,320.97" fill="#fff" stroke="#8000ff" stroke-width="0.9"/><polygon points="147.31,317.97 151.45,320.97 149.87,325.83 147.31,325.83" fill="#8000ff" stroke="#8000ff" stroke-width="0.9"/><polygon points="159.94,320.27 164.08,323.27 162.50,328.13 157.38,328.13 155.80,323.27" fill="#fff" stroke="#8000ff" stroke-width="0.9"/><polygon points="159.94,320.27 164.08,323.27 162.50,328.13 159.94,328.13" fill="#8000ff" stroke="#8000ff" stroke-width="0.9"/><polygon points="172.57,319.27 176.71,322.27 175.13,327.13 170.01,327.13 168.43,322.27" fill="#fff" stroke="#8000ff" stroke-width="0.9"/><polygon points="172.57,319.27 176.71,322.27 175.13,327.13 172.57,327.13" fill="#8000ff" stroke="#8000ff" stroke-width="0.9"/><polygon points="185.20,320.27 189.34,323.27 187.76,328.13 182.64,328.13 181.06,323.27" fill="#fff" stroke="#8000ff" stroke-width="0.9"/><polygon points="185.20,320.27 189.34,323.27 187.76,328.13 185.20,328.13" fill="#8000ff" stroke="#8000ff" stroke-width="0.9"/><polygon points="197.83,321.77 201.97,324.77 200.39,329.63 195.27,329.63 193.69,324.77" fill="#fff" stroke="#8000ff" stroke-width="0.9"/><polygon points="197.83,321.77 201.97,324.77 200.39,329.63 197.83,329.63" fill="#8000ff" stroke="#8000ff" stroke-width="0.9"/><polygon points="210.46,319.67 214.60,322.67 213.02,327.53 207.90,327.53 206.32,322.67" fill="#fff" stroke="#8000ff" stroke-width="0.9"/><polygon points="210.46,319.67 214.60,322.67 213.02,327.53 210.46,327.53" fill="#8000ff" stroke="#8000ff" stroke-width="0.9"/><polygon points="223.09,320.67 227.23,323.67 225.65,328.53 220.53,328.53 218.95,323.67" fill="#fff" stroke="#8000ff" stroke-width="0.9"/><polygon points="223.09,320.67 227.23,323.67 225.65,328.53 223.09,328.53" fill="#8000ff" stroke="#8000ff" stroke-width="0.9"/><polygon points="235.72,319.07 239.86,322.07 238.28,326.93 233.16,326.93 231.58,322.07" fill="#fff" stroke="#8000ff" stroke-width="0.9"/><polygon points="235.72,319.07 239.86,322.07 238.28,326.93 235.72,326.93" fill="#8000ff" stroke="#8000ff" stroke-width="0.9"/><polygon points="248.35,321.27 252.49,324.27 250.91,329.13 245.79,329.13 244.21,324.27" fill="#fff" stroke="#8000ff" stroke-width="0.9"/><polygon points="248.35,321.27 252.49,324.27 250.91,329.13 248.35,329.13" fill="#8000ff" stroke="#8000ff" stroke-width="0.9"/><polygon points="260.98,322.77 265.12,325.77 263.54,330.63 258.42,330.63 256.84,325.77" fill="#fff" stroke="#8000ff" stroke-width="0.9"/><polygon points="260.98,322.77 265.12,325.77 263.54,330.63 260.98,330.63" fill="#8000ff" stroke="#8000ff" stroke-width="0.9"/><polygon points="273.61,319.47 277.75,322.47 276.17,327.33 271.05,327.33 269.47,322.47" fill="#fff" stroke="#8000ff" stroke-width="0.9"/><polygon points="273.61,319.47 277.75,322.47 276.17,327.33 273.61,327.33" fill="#8000ff" stroke="#8000ff" stroke-width="0.9"/><polygon points="286.24,321.77 290.38,324.77 288.80,329.63 283.68,329.63 282.10,324.77" fill="#fff" stroke="#8000ff" stroke-width="0.9"/><polygon points="286.24,321.77 290.38,324.77 288.80,329.63 286.24,329.63" fill="#8000ff" stroke="#8000ff" stroke-width="0.9"/><polygon points="298.87,319.27 303.01,322.27 301.43,327.13 296.31,327.13 294.73,322.27" fill="#fff" stroke="#8000ff" stroke-width="0.9"/><polygon points="298.87,319.27 303.01,322.27 301.43,327.13 298.87,327.13" fill="#8000ff" stroke="#8000ff" stroke-width="0.9"/><polygon points="311.50,317.07 315.64,320.07 314.06,324.93 308.94,324.93 307.36,320.07" fill="#fff" stroke="#8000ff" stroke-width="0.9"/><polygon points="311.50,317.07 315.64,320.07 314.06,324.93 311.50,324.93" fill="#8000ff" stroke="#8000ff" stroke-width="0.9"/><polygon points="324.13,326.87 328.27,329.87 326.69,334.73 321.57,334.73 319.99,329.87" fill="#fff" stroke="#8000ff" stroke-width="0.9"/><polygon points="324.13,326.87 328.27,329.87 326.69,334.73 324.13,334.73" fill="#8000ff" stroke="#8000ff" stroke-width="0.9"/><polygon points="336.76,332.57 340.90,335.57 339.32,340.43 334.20,340.43 332.62,335.57" fill="#fff" stroke="#8000ff" stroke-width="0.9"/><polygon points="336.76,332.57 340.90,335.57 339.32,340.43 336.76,340.43" fill="#8000ff" stroke="#8000ff" stroke-width="0.9"/><polygon points="349.39,319.27 353.53,322.27 351.95,327.13 346.83,327.13 345.25,322.27" fill="#fff" stroke="#8000ff" stroke-width="0.9"/><polygon points="349.39,319.27 353.53,322.27 351.95,327.13 349.39,327.13" fill="#8000ff" stroke="#8000ff" stroke-width="0.9"/><polygon points="362.02,319.67 366.16,322.67 364.58,327.53 359.46,327.53 357.88,322.67" fill="#fff" stroke="#8000ff" stroke-width="0.9"/><polygon points="362.02,319.67 366.16,322.67 364.58,327.53 362.02,327.53" fill="#8000ff" stroke="#8000ff" stroke-width="0.9"/><polygon points="374.65,320.67 378.79,323.67 377.21,328.53 372.09,328.53 370.51,323.67" fill="#fff" stroke="#8000ff" stroke-width="0.9"/><polygon points="374.65,320.67 378.79,323.67 377.21,328.53 374.65,328.53" fill="#8000ff" stroke="#8000ff" stroke-width="0.9"/><polygon points="387.28,318.27 391.42,321.27 389.84,326.13 384.72,326.13 383.14,321.27" fill="#fff" stroke="#8000ff" stroke-width="0.9"/><polygon points="387.28,318.27 391.42,321.27 389.84,326.13 387.28,326.13" fill="#8000ff" stroke="#8000ff" stroke-width="0.9"/><polygon points="399.91,317.67 404.05,320.67 402.47,325.53 397.35,325.53 395.77,320.67" fill="#fff" stroke="#8000ff" stroke-width="0.9"/><polygon points="399.91,317.67 404.05,320.67 402.47,325.53 399.91,325.53" fill="#8000ff" stroke="#8000ff" stroke-width="0.9"/><polygon points="412.54,318.67 416.68,321.67 415.10,326.53 409.98,326.53 408.40,321.67" fill="#fff" stroke="#8000ff" stroke-width="0.9"/><polygon points="412.54,318.67 416.68,321.67 415.10,326.53 412.54,326.53" fill="#8000ff" stroke="#8000ff" stroke-width="0.9"/><polygon points="425.17,321.77 429.31,324.77 427.73,329.63 422.61,329.63 421.03,324.77" fill="#fff" stroke="#8000ff" stroke-width="0.9"/><polygon points="425.17,321.77 429.31,324.77 427.73,329.63 425.17,329.63" fill="#8000ff" stroke="#8000ff" stroke-width="0.9"/><polygon points="437.80,328.47 441.94,331.47 440.36,336.33 435.24,336.33 433.66,331.47" fill="#fff" stroke="#8000ff" stroke-width="0.9"/><polygon points="437.80,328.47 441.94,331.47 440.36,336.33 437.80,336.33" fill="#8000ff" stroke="#8000ff" stroke-width="0.9"/><polygon points="450.43,321.27 454.57,324.27 452.99,329.13 447.87,329.13 446.29,324.27" fill="#fff" stroke="#8000ff" stroke-width="0.9"/><polygon points="450.43,321.27 454.57,324.27 452.99,329.13 450.43,329.13" fill="#8000ff" stroke="#8000ff" stroke-width="0.9"/><polygon points="463.06,307.37 467.20,310.37 465.62,315.23 460.50,315.23 458.92,310.37" fill="#fff" stroke="#8000ff" stroke-width="0.9"/><polygon points="463.06,307.37 467.20,310.37 465.62,315.23 463.06,315.23" fill="#8000ff" stroke="#8000ff" stroke-width="0.9"/><polygon points="475.69,336.47 479.83,339.47 478.25,344.33 473.13,344.33 471.55,339.47" fill="#fff" stroke="#8000ff" stroke-width="0.9"/><polygon points="475.69,336.47 479.83,339.47 478.25,344.33 475.69,344.33" fill="#8000ff" stroke="#8000ff" stroke-width="0.9"/><polygon points="488.32,317.67 492.46,320.67 490.88,325.53 485.76,325.53 484.18,320.67" fill="#fff" stroke="#8000ff" stroke-width="0.9"/><polygon points="488.32,317.67 492.46,320.67 490.88,325.53 488.32,325.53" fill="#8000ff" stroke="#8000ff" stroke-width="0.9"/><polygon points="500.95,321.27 505.09,324.27 503.51,329.13 498.39,329.13 496.81,324.27" fill="#fff" stroke="#8000ff" stroke-width="0.9"/><polygon points="500.95,321.27 505.09,324.27 503.51,329.13 500.95,329.13" fill="#8000ff" stroke="#8000ff" stroke-width="0.9"/><polygon points="513.58,320.67 517.72,323.67 516.14,328.53 511.02,328.53 509.44,323.67" fill="#fff" stroke="#8000ff" stroke-width="0.9"/><polygon points="513.58,320.67 517.72,323.67 516.14,328.53 513.58,328.53" fill="#8000ff" stroke="#8000ff" stroke-width="0.9"/><polygon points="526.21,319.67 530.35,322.67 528.77,327.53 523.65,327.53 522.07,322.67" fill="#fff" stroke="#8000ff" stroke-width="0.9"/><polygon points="526.21,319.67 530.35,322.67 528.77,327.53 526.21,327.53" fill="#8000ff" stroke="#8000ff" stroke-width="0.9"/><polygon points="538.84,320.87 542.98,323.87 541.40,328.73 536.28,328.73 534.70,323.87" fill="#fff" stroke="#8000ff" stroke-width="0.9"/><polygon points="538.84,320.87 542.98,323.87 541.40,328.73 538.84,328.73" fill="#8000ff" stroke="#8000ff" stroke-width="0.9"/><polygon points="551.47,266.17 555.61,269.17 554.03,274.03 548.91,274.03 547.33,269.17" fill="#fff" stroke="#8000ff" stroke-width="0.9"/><polygon points="551.47,266.17 555.61,269.17 554.03,274.03 551.47,274.03" fill="#8000ff" stroke="#8000ff" stroke-width="0.9"/><polygon points="564.10,284.07 568.24,287.07 566.66,291.93 561.54,291.93 559.96,287.07" fill="#fff" stroke="#8000ff" stroke-width="0.9"/><polygon points="564.10,284.07 568.24,287.07 566.66,291.93 564.10,291.93" fill="#8000ff" stroke="#8000ff" stroke-width="0.9"/><polygon points="576.73,250.77 580.87,253.77 579.29,258.63 574.17,258.63 572.59,253.77" fill="#fff" stroke="#8000ff" stroke-width="0.9"/><polygon points="576.73,250.77 580.87,253.77 579.29,258.63 576.73,258.63" fill="#8000ff" stroke="#8000ff" stroke-width="0.9"/><polygon points="589.36,289.37 593.50,292.37 591.92,297.23 586.80,297.23 585.22,292.37" fill="#fff" stroke="#8000ff" stroke-width="0.9"/><polygon points="589.36,289.37 593.50,292.37 591.92,297.23 589.36,297.23" fill="#8000ff" stroke="#8000ff" stroke-width="0.9"/><polygon points="601.99,319.47 606.13,322.47 604.55,327.33 599.43,327.33 597.85,322.47" fill="#fff" stroke="#8000ff" stroke-width="0.9"/><polygon points="601.99,319.47 606.13,322.47 604.55,327.33 601.99,327.33" fill="#8000ff" stroke="#8000ff" stroke-width="0.9"/><polygon points="614.62,317.37 618.76,320.37 617.18,325.23 612.06,325.23 610.48,320.37" fill="#fff" stroke="#8000ff" stroke-width="0.9"/><polygon points="614.62,317.37 618.76,320.37 617.18,325.23 614.62,325.23" fill="#8000ff" stroke="#8000ff" stroke-width="0.9"/><polygon points="627.25,320.07 631.39,323.07 629.81,327.93 624.69,327.93 623.11,323.07" fill="#fff" stroke="#8000ff" stroke-width="0.9"/><polygon points="627.25,320.07 631.39,323.07 629.81,327.93 627.25,327.93" fill="#8000ff" stroke="#8000ff" stroke-width="0.9"/>
</g>
<g stroke="#000" stroke-width="1.7" fill="none">
<path d="M57.9,9.2 H640 V363.4 H57.9 Z" stroke-linejoin="miter" stroke-width="1.55"/>
</g>
<path d="M58.90,363.3 V356 M122.05,363.3 V356 M185.20,363.3 V356 M248.35,363.3 V356 M311.50,363.3 V356 M374.65,363.3 V356 M437.80,363.3 V356 M500.95,363.3 V356 M564.10,363.3 V356 M627.25,363.3 V356 M90.47,363.3 V359.5 M153.62,363.3 V359.5 M216.78,363.3 V359.5 M279.93,363.3 V359.5 M343.07,363.3 V359.5 M406.23,363.3 V359.5 M469.38,363.3 V359.5 M532.53,363.3 V359.5 M595.67,363.3 V359.5 M57.9,363.04 H65 M57.9,343.37 H61.5 M57.9,323.71 H65 M57.9,304.04 H61.5 M57.9,284.37 H65 M57.9,264.71 H61.5 M57.9,245.04 H65 M57.9,225.37 H61.5 M57.9,205.70 H65 M57.9,186.04 H61.5 M57.9,166.37 H65 M57.9,146.70 H61.5 M57.9,127.04 H65 M57.9,107.37 H61.5 M57.9,87.70 H65 M57.9,68.04 H61.5 M57.9,48.37 H65 M57.9,28.70 H61.5 M57.9,9.03 H65 M640,363.04 H633 M640,343.37 H636.5 M640,323.71 H633 M640,304.04 H636.5 M640,284.37 H633 M640,264.71 H636.5 M640,245.04 H633 M640,225.37 H636.5 M640,205.70 H633 M640,186.04 H636.5 M640,166.37 H633 M640,146.70 H636.5 M640,127.04 H633 M640,107.37 H636.5 M640,87.70 H633 M640,68.04 H636.5 M640,48.37 H633 M640,28.70 H636.5 M640,9.03 H633" stroke="#000" stroke-width="1.6" fill="none"/>
<text x="50" y="369.34" text-anchor="end" class="tl" style="font-size:18.2px">20</text><text x="50" y="330.01" text-anchor="end" class="tl" style="font-size:18.2px">40</text><text x="50" y="290.67" text-anchor="end" class="tl" style="font-size:18.2px">60</text><text x="50" y="251.34" text-anchor="end" class="tl" style="font-size:18.2px">80</text><text x="50" y="212.00" text-anchor="end" class="tl" style="font-size:18.2px">100</text><text x="50" y="172.67" text-anchor="end" class="tl" style="font-size:18.2px">120</text><text x="50" y="133.34" text-anchor="end" class="tl" style="font-size:18.2px">140</text><text x="50" y="94.00" text-anchor="end" class="tl" style="font-size:18.2px">160</text><text x="50" y="54.67" text-anchor="end" class="tl" style="font-size:18.2px">180</text><text x="50" y="15.33" text-anchor="end" class="tl" style="font-size:18.2px">200</text><text x="648" y="369.34" text-anchor="start" class="tl">-2</text><text x="648" y="330.01" text-anchor="start" class="tl">0</text><text x="648" y="290.67" text-anchor="start" class="tl">2</text><text x="648" y="251.34" text-anchor="start" class="tl">4</text><text x="648" y="212.00" text-anchor="start" class="tl">6</text><text x="648" y="172.67" text-anchor="start" class="tl">8</text><text x="648" y="133.34" text-anchor="start" class="tl">10</text><text x="648" y="94.00" text-anchor="start" class="tl">12</text><text x="648" y="54.67" text-anchor="start" class="tl">14</text><text x="648" y="15.33" text-anchor="start" class="tl">16</text><text x="58.90" y="384" text-anchor="middle" class="bl">0</text><text x="122.05" y="384" text-anchor="middle" class="bl">5</text><text x="185.20" y="384" text-anchor="middle" class="bl">10</text><text x="248.35" y="384" text-anchor="middle" class="bl">15</text><text x="311.50" y="384" text-anchor="middle" class="bl">20</text><text x="374.65" y="384" text-anchor="middle" class="bl">25</text><text x="437.80" y="384" text-anchor="middle" class="bl">30</text><text x="500.95" y="384" text-anchor="middle" class="bl">35</text><text x="564.10" y="384" text-anchor="middle" class="bl">40</text><text x="627.25" y="384" text-anchor="middle" class="bl">45</text>
<text x="341" y="406.9" text-anchor="middle" class="at" style="font-size:17.8px">Experimental sample</text>
<text transform="translate(15.0,186.3) rotate(-90)" text-anchor="middle" class="at" style="font-size:18px"><tspan font-style="italic">SMD</tspan>/μm</text>
<text transform="translate(679.5,195.3) rotate(-90)" text-anchor="middle" class="at">Error//μm</text>
<path d="M346.6,40.7 H383.1" stroke="#c0c0f8" stroke-width="1.2"/><rect x="361.1" y="36.7" width="8" height="8" fill="#0000ff"/><text x="387.4" y="45.9" fill="#0000ff" class="lg">Experimental value</text><path d="M346.6,60.9 H383.1" stroke="#f0b0b0" stroke-width="1.2"/><polygon points="365.1,55.699999999999996 370.3,60.9 365.1,66.1 359.90000000000003,60.9" fill="#ff0000"/><text x="387.4" y="66.1" fill="#ff0000" class="lg">GA-BP Network out value</text><path d="M346.6,81.1 H383.1" stroke="#90f090" stroke-width="1.2"/><polygon points="365.10,76.94 366.40,79.75 369.47,80.12 367.20,82.22 367.80,85.26 365.10,83.75 362.40,85.26 363.00,82.22 360.73,80.12 363.80,79.75" fill="#00ee00"/><text x="387.4" y="86.3" fill="#00ee00" class="lg">BP Network out value</text>
<path d="M197.2,264.7 H230.9" stroke="#ff0000" stroke-width="1.8"/><polygon points="214.00,260.63 215.27,263.38 218.28,263.74 216.05,265.80 216.65,268.77 214.00,267.29 211.35,268.77 211.95,265.80 209.72,263.74 212.73,263.38" fill="#fff" stroke="#ff0000" stroke-width="0.9"/><clipPath id="c21400_26470"><rect x="214.00" y="256.70" width="9" height="16"/></clipPath><polygon points="214.00,260.63 215.27,263.38 218.28,263.74 216.05,265.80 216.65,268.77 214.00,267.29 211.35,268.77 211.95,265.80 209.72,263.74 212.73,263.38" fill="#ff0000" stroke="#ff0000" stroke-width="0.9" clip-path="url(#c21400_26470)"/><text transform="translate(242.03,270.3) scale(0.66,1)" fill="#ff0000" text-anchor="middle" class="lm">G</text><text transform="translate(250.08,270.3) scale(0.63,1)" fill="#ff0000" text-anchor="middle" class="lm">A</text><text transform="translate(258.12,270.3) scale(0.8,1)" fill="#ff0000" text-anchor="middle" class="lm">–</text><text transform="translate(266.17,270.3) scale(0.74,1)" fill="#ff0000" text-anchor="middle" class="lm">B</text><text transform="translate(274.22,270.3) scale(0.82,1)" fill="#ff0000" text-anchor="middle" class="lm">P</text><text transform="translate(290.32,270.3) scale(0.74,1)" fill="#ff0000" text-anchor="middle" class="lm">E</text><text transform="translate(298.38,270.3) scale(1.12,1)" fill="#ff0000" text-anchor="middle" class="lm">r</text><text transform="translate(306.42,270.3) scale(1.12,1)" fill="#ff0000" text-anchor="middle" class="lm">r</text><text transform="translate(314.47,270.3) scale(0.9,1)" fill="#ff0000" text-anchor="middle" class="lm">o</text><text transform="translate(322.52,270.3) scale(1.12,1)" fill="#ff0000" text-anchor="middle" class="lm">r</text><path d="M197.2,282.1 H230.9" stroke="#8000ff" stroke-width="1.8"/><polygon points="214.00,277.91 218.09,280.88 216.53,285.69 211.47,285.69 209.91,280.88" fill="#fff" stroke="#8000ff" stroke-width="0.9"/><polygon points="214.00,277.91 218.09,280.88 216.53,285.69 214.00,285.69" fill="#8000ff" stroke="#8000ff" stroke-width="0.9"/><text transform="translate(242.03,288.2) scale(0.74,1)" fill="#8000ff" text-anchor="middle" class="lm">B</text><text transform="translate(250.08,288.2) scale(0.82,1)" fill="#8000ff" text-anchor="middle" class="lm">P</text><text transform="translate(266.17,288.2) scale(0.74,1)" fill="#8000ff" text-anchor="middle" class="lm">E</text><text transform="translate(274.22,288.2) scale(1.12,1)" fill="#8000ff" text-anchor="middle" class="lm">r</text><text transform="translate(282.27,288.2) scale(1.12,1)" fill="#8000ff" text-anchor="middle" class="lm">r</text><text transform="translate(290.32,288.2) scale(0.9,1)" fill="#8000ff" text-anchor="middle" class="lm">o</text><text transform="translate(298.38,288.2) scale(1.12,1)" fill="#8000ff" text-anchor="middle" class="lm">r</text>
</svg>
</body></html>
